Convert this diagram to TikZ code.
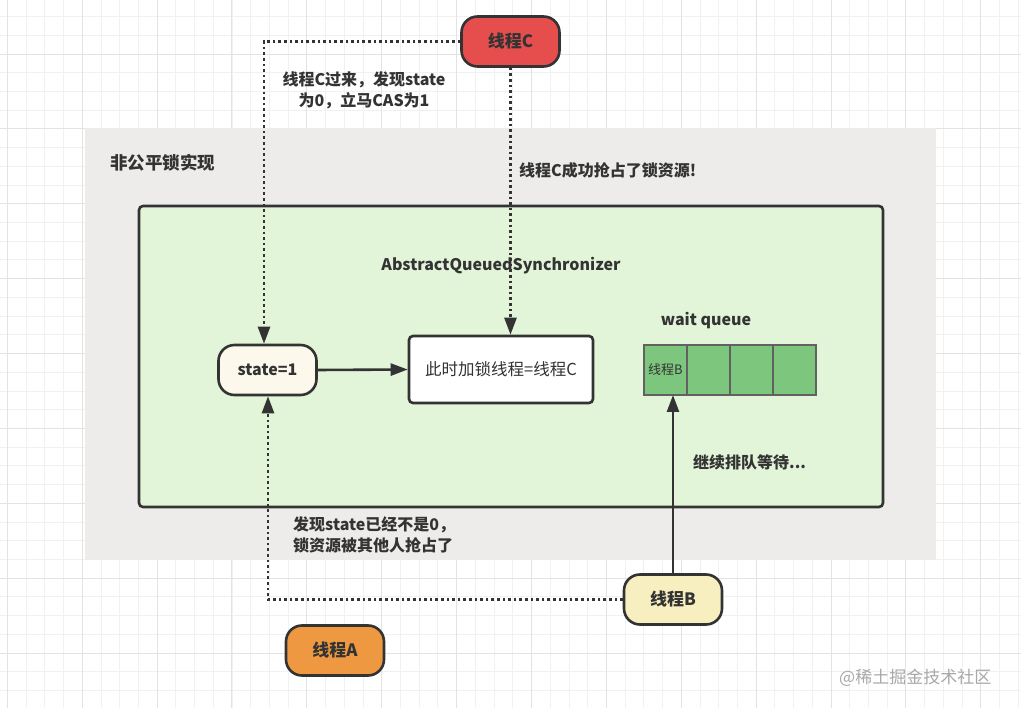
\documentclass[tikz,border=0pt]{standalone}
\usepackage{fontspec}
\setmainfont{Noto Sans CJK SC}
\usetikzlibrary{arrows.meta}
\definecolor{bggray}{HTML}{EDECEA}
\definecolor{lgreen}{HTML}{E3F5D9}
\definecolor{bordc}{HTML}{333333}
\definecolor{creamc}{HTML}{FCF9EC}
\definecolor{redc}{HTML}{E64D4D}
\definecolor{yelc}{HTML}{F7EFC0}
\definecolor{orc}{HTML}{EE9942}
\definecolor{qgreen}{HTML}{7DC67E}
\definecolor{gridminor}{HTML}{F1F1F1}
\definecolor{gridmajor}{HTML}{E3E3E3}
\definecolor{txtc}{HTML}{333333}
\definecolor{wmc}{HTML}{A8A8A8}
\tikzset{
  pill/.style={draw=bordc, line width=2.6pt, rounded corners=16pt, minimum width=98pt, minimum height=50pt, inner sep=0pt, font=\fontsize{17}{20}\selectfont\bfseries, text=txtc},
  boxw/.style={draw=bordc, line width=2.6pt, rounded corners=4pt, fill=white, minimum width=184pt, minimum height=67pt, inner sep=0pt, font=\fontsize{16.5}{20}\selectfont, text=txtc},
  qcell/.style={draw=black!62, line width=1.4pt, fill=qgreen, minimum width=43pt, minimum height=50pt, inner sep=0pt, outer sep=0pt, font=\fontsize{13}{15}\selectfont, text=txtc},
  lbl/.style={font=\fontsize{16}{21}\selectfont\bfseries, text=txtc, inner sep=0pt},
  dotl/.style={line width=2.6pt, draw=bordc, dash pattern=on 2.6pt off 3pt},
  arr/.style={-{Triangle[length=17pt,width=12pt]}},
  solidl/.style={line width=2.6pt, draw=bordc}
}
\begin{document}
\begin{tikzpicture}[x=1pt,y=-1pt]
\useasboundingbox (0,0) rectangle (1021,708);
\fill[white] (0,0) rectangle (1021,708);
% grid
\foreach \i in {0,...,55} {
  \pgfmathsetmacro\gx{7.3+18.72*\i}
  \draw[gridminor, line width=0.8pt] (\gx,0) -- (\gx,708);
}
\foreach \i in {0,...,38} {
  \pgfmathsetmacro\gy{-2.2+18.72*\i}
  \draw[gridminor, line width=0.8pt] (0,\gy) -- (1021,\gy);
}
\foreach \i in {0,...,13} {
  \pgfmathsetmacro\gx{7.3+74.88*\i}
  \draw[gridmajor, line width=0.9pt] (\gx,0) -- (\gx,708);
}
\foreach \i in {0,...,9} {
  \pgfmathsetmacro\gy{54+74.88*\i}
  \draw[gridmajor, line width=0.9pt] (0,\gy) -- (1021,\gy);
}
% gray area
\fill[bggray] (85,128) rectangle (936,560);
\node[lbl, anchor=west, font=\fontsize{17.5}{21}\selectfont\bfseries] (title) at (110,163) {非公平锁实现};
% green area
\draw[draw=bordc, line width=2.6pt, fill=lgreen, rounded corners=4pt] (139,206) rectangle (883,507);
\node[lbl, anchor=center] (aqs) at (501,266) {AbstractQueuedSynchronizer};
% nodes
\node[pill, fill=creamc, font=\fontsize{16}{20}\selectfont\bfseries] (state) at (267.5,370) {state=1};
\node[boxw] (lockt) at (501,369.5) {此时加锁线程=线程C};
\node[lbl, anchor=center] (wq) at (706,321) {wait queue};
\node[qcell] (q1) at (665.5,370) {线程B};
\node[qcell, anchor=west] (q2) at (q1.east) {};
\node[qcell, anchor=west] (q3) at (q2.east) {};
\node[qcell, anchor=west] (q4) at (q3.east) {};
\node[pill, fill=redc] (tc) at (510.5,41.5) {线程C};
\node[pill, fill=yelc] (tb) at (673,599.5) {线程B};
\node[pill, fill=orc] (ta) at (335,650.5) {线程A};
% connectors
\coordinate (c1) at (264,41.5);
\coordinate (c2) at (268,599.5);
\draw[dotl, arr] (tc.west) -- (c1) -- ([xshift=-3.5pt]state.north);
\draw[dotl, arr] (tb.west) -- (c2) -- ([xshift=0.5pt]state.south);
\draw[dotl, arr] (tc.south) -- (tc.south |- lockt.north);
\draw[solidl, arr] (state.east) -- (lockt.west);
\draw[solidl, arr] (tb.north) -- (tb.north |- q1.south);
% labels
\node[lbl, align=center] (l1) at (364,90) {线程C过来，发现state\\为0，立马CAS为1};
\node[lbl, anchor=west] (l2) at (519,170) {线程C成功抢占了锁资源!};
\node[lbl, anchor=west] (l3) at (693,462) {继续排队等待...};
\node[lbl, anchor=west, align=left] (l4) at (293,535) {发现state已经不是0，\\锁资源被其他人抢占了};
\node[font=\fontsize{17}{20}\selectfont, text=wmc, anchor=west, inner sep=0pt] (wm) at (839,678) {@稀土掘金技术社区};
\end{tikzpicture}
\end{document}
